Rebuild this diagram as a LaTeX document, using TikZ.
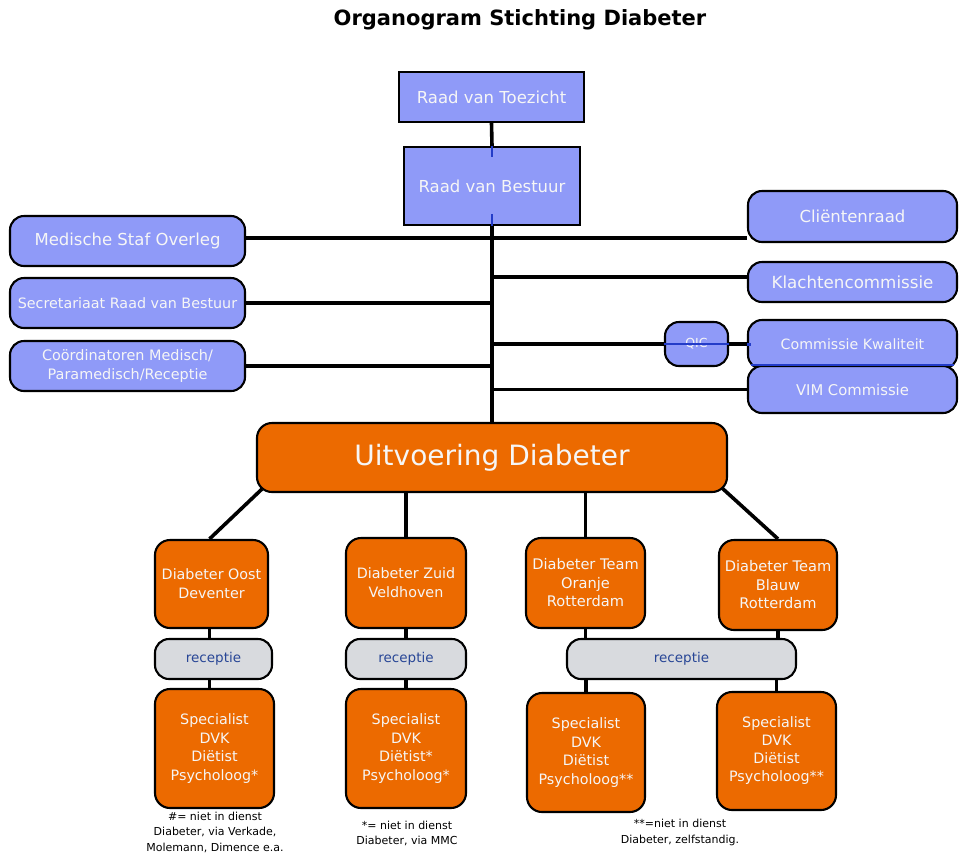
\documentclass[tikz,border=0pt]{standalone}
\usepackage{fontspec}
\setmainfont{DejaVu Sans}
\usetikzlibrary{backgrounds}
\definecolor{boxblue}{RGB}{143,154,248}
\definecolor{boxorange}{RGB}{236,106,0}
\definecolor{boxgrey}{RGB}{216,218,222}
\definecolor{rectext}{RGB}{40,70,150}
\definecolor{stubblue}{RGB}{35,60,200}
\definecolor{txtwhite}{RGB}{246,246,246}
\begin{document}
\begin{tikzpicture}[x=1pt,y=-1pt,
  base/.style={draw=black, line width=2.1pt, align=center, inner sep=0pt, text=txtwhite},
  sqblue/.style={base, fill=boxblue, font=\fontsize{16.5}{19}\selectfont},
  rblue/.style={base, fill=boxblue, rounded corners=14pt, font=\fontsize{16}{19}\selectfont},
  orbox/.style={base, fill=boxorange, rounded corners=15pt, font=\fontsize{14.3}{18.7}\selectfont},
  recbox/.style={base, fill=boxgrey, rounded corners=14pt, text=rectext, font=\fontsize{13.5}{16}\selectfont},
  note/.style={align=center, inner sep=0pt, font=\fontsize{11}{15.5}\selectfont, text=black},
  conn/.style={line width=3.6pt, black},
  stub/.style={line width=2.4pt, stubblue}
]
\useasboundingbox (0,0) rectangle (959,852);

% title
\node[font=\fontsize{21}{24}\selectfont\bfseries, inner sep=0pt] (title) at (520,20) {Organogram Stichting Diabeter};

% top boxes
\node[sqblue, minimum width=185, minimum height=50] (rvt) at (491.5,97) {Raad van Toezicht};
\node[sqblue, minimum width=176, minimum height=78] (rvb) at (492,186) {Raad van Bestuur};

% left boxes
\node[rblue, minimum width=235, minimum height=50, font=\fontsize{16.5}{19}\selectfont] (mso) at (127.5,241) {Medische Staf Overleg};
\node[rblue, minimum width=235, minimum height=50, font=\fontsize{14.3}{19}\selectfont] (sec) at (127.5,303) {Secretariaat Raad van Bestuur};
\node[rblue, minimum width=235, minimum height=50, font=\fontsize{14.4}{19.5}\selectfont] (coo) at (127.5,366) {Coördinatoren Medisch/\\Paramedisch/Receptie};

% right boxes
\node[rblue, minimum width=209, minimum height=51, font=\fontsize{16.5}{19}\selectfont] (cr) at (852.5,216.5) {Cliëntenraad};
\node[rblue, minimum width=209, minimum height=40, font=\fontsize{16.7}{19}\selectfont] (kc) at (852.5,282) {Klachtencommissie};
\node[rblue, minimum width=209, minimum height=49, font=\fontsize{14.2}{17}\selectfont] (ck) at (852.5,344.5) {Commissie Kwaliteit};
\node[rblue, minimum width=209, minimum height=47, font=\fontsize{14.8}{17}\selectfont] (vim) at (852.5,389.5) {VIM Commissie};
\node[rblue, minimum width=63, minimum height=44, font=\fontsize{12.5}{14}\selectfont] (qic) at (696.5,344) {QIC};

% uitvoering
\node[orbox, minimum width=470, minimum height=69, font=\fontsize{28}{32}\selectfont] (uit) at (492,457.5) {Uitvoering Diabeter};

% locations
\node[orbox, minimum width=113, minimum height=88] (oost) at (211.5,584) {Diabeter Oost\\Deventer};
\node[orbox, minimum width=120, minimum height=90] (zuid) at (406,583) {Diabeter Zuid\\Veldhoven};
\node[orbox, minimum width=119, minimum height=90, font=\fontsize{14.6}{18.5}\selectfont] (oranje) at (585.5,583) {Diabeter Team\\Oranje\\Rotterdam};
\node[orbox, minimum width=118, minimum height=90, font=\fontsize{14.6}{18.5}\selectfont] (blauw) at (778,585) {Diabeter Team\\Blauw\\Rotterdam};

% receptie
\node[recbox, minimum width=117, minimum height=40] (rec1) at (213.5,659) {receptie};
\node[recbox, minimum width=120, minimum height=40] (rec2) at (406,659) {receptie};
\node[recbox, minimum width=229, minimum height=40] (rec3) at (681.5,659) {receptie};

% specialists
\node[orbox, minimum width=119, minimum height=119] (sp1) at (214.5,748.5) {Specialist\\DVK\\Diëtist\\Psycholoog*};
\node[orbox, minimum width=120, minimum height=119] (sp2) at (406,748.5) {Specialist\\DVK\\Diëtist*\\Psycholoog*};
\node[orbox, minimum width=118, minimum height=119] (sp3) at (586,752.5) {Specialist\\DVK\\Diëtist\\Psycholoog**};
\node[orbox, minimum width=119, minimum height=118] (sp4) at (776.5,751) {\raisebox{6pt}{\begin{tabular}{@{}c@{}}Specialist\\[-0.8pt]DVK\\[-0.8pt]Diëtist\\[-0.8pt]Psycholoog**\end{tabular}}};

% notes
\node[note] (n1) at (215,832) {\#= niet in dienst\\Diabeter, via Verkade,\\Molemann, Dimence e.a.};
\node[note] (n2) at (407,833.5) {*= niet in dienst\\Diabeter, via MMC};
\node[note] (n3) at (680,832.5) {**=niet in dienst\\Diabeter, zelfstandig.};

% connectors
\begin{scope}[on background layer]
  \draw[conn] (rvt.south) -- (rvb.north);
  \draw[conn] (rvb.south) -- (uit.north);
  \draw[conn] ([yshift=3pt]mso.east) -- ([yshift=3pt]mso.east -| cr.west);
  \draw[conn] (sec.east) -- (sec.east -| rvb.south);
  \draw[conn] (coo.east) -- (coo.east -| rvb.south);
  \draw[conn] ([yshift=5pt]kc.west) -- ([yshift=5pt]kc.west -| rvb.south);
  \draw[conn] (qic.west) -- (qic.west -| rvb.south);
  \draw[conn] (qic.east) -- (qic.east -| ck.west);
  \draw[conn] (vim.west) -- (vim.west -| rvb.south);
  \draw[conn] ([xshift=6pt,yshift=4pt]uit.south west) -- ([xshift=-2pt]oost.north);
  \draw[conn] (zuid.north) -- (zuid.north |- uit.south);
  \draw[conn] (oranje.north) -- (oranje.north |- uit.south);
  \draw[conn] ([xshift=-6pt,yshift=5pt]uit.south east) -- (blauw.north);
  \draw[conn] ([xshift=-2pt]oost.south) -- ([xshift=-2pt]oost.south |- rec1.north);
  \draw[conn] ([xshift=-2pt]oost.south |- rec1.south) -- ([xshift=-2pt]oost.south |- sp1.north);
  \draw[conn] (zuid.south) -- (rec2.north);
  \draw[conn] (rec2.south) -- (sp2.north);
  \draw[conn] (oranje.south) -- (oranje.south |- rec3.north);
  \draw[conn] (blauw.south) -- (blauw.south |- rec3.north);
  \draw[conn] (sp3.north) -- (sp3.north |- rec3.south);
  \draw[conn] (sp4.north) -- (sp4.north |- rec3.south);
\end{scope}

% blue stubs
\draw[stub] (rvb.north) -- ++(0,11);
\draw[stub] (rvb.south) -- ++(0,-12);
\draw[stub] (qic.west) -- (qic.east);
\draw[stub] (ck.west) -- ++(4,0);
\draw[stub] ([xshift=4pt,yshift=5pt]ck.south west) -- ([xshift=-4pt,yshift=5pt]ck.south east);
\end{tikzpicture}
\end{document}
